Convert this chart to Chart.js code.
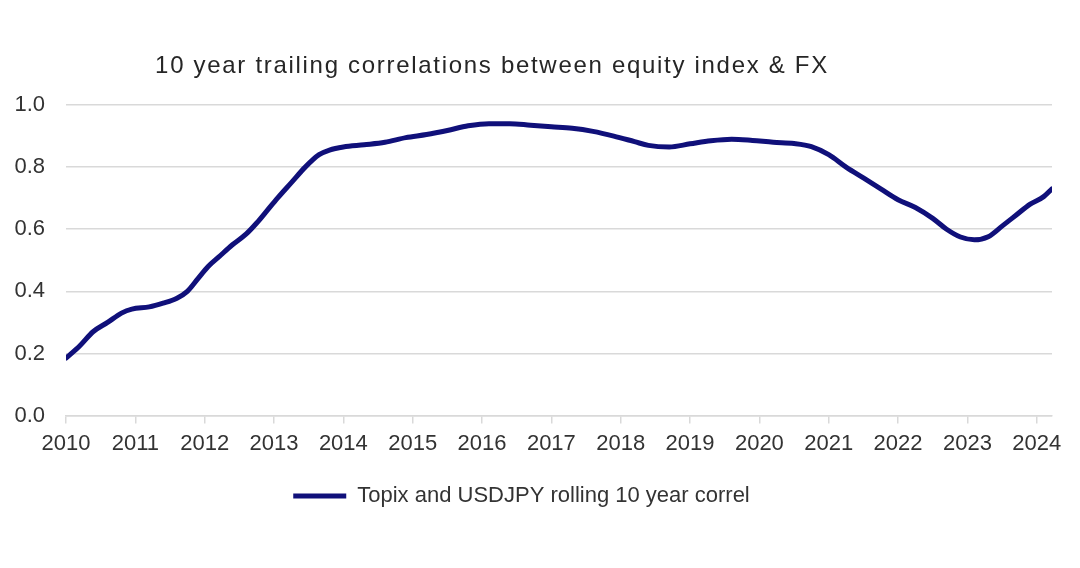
<!DOCTYPE html>
<html>
<head>
<meta charset="utf-8">
<script src="https://cdn.jsdelivr.net/npm/chart.js@4.4.1/dist/chart.umd.min.js"></script>
<style>
  html, body { margin: 0; padding: 0; background: #ffffff; }
  #wrap { width: 1080px; height: 568px; position: relative; }
</style>
</head>
<body>
<div id="wrap"><canvas id="c"></canvas></div>
<script>
const TITLE = "10 year trailing correlations between equity index & FX";
const SERIES_LABEL = "Topix and USDJPY rolling 10 year correl";

// time in fractional years
const years = [
  2010.00, 2010.20, 2010.39, 2010.60, 2010.80, 2010.95, 2011.20, 2011.40, 2011.60, 2011.75,
  2011.90, 2012.05, 2012.20, 2012.40, 2012.60, 2012.75, 2012.90, 2013.05, 2013.25, 2013.45,
  2013.65, 2013.80, 2014.00, 2014.30, 2014.60, 2014.90, 2015.20, 2015.50, 2015.80, 2016.10,
  2016.40, 2016.70, 2017.00, 2017.30, 2017.60, 2017.90, 2018.20, 2018.40, 2018.70, 2019.00,
  2019.30, 2019.60, 2019.90, 2020.20, 2020.50, 2020.75, 2021.00, 2021.25, 2021.50, 2021.75,
  2022.00, 2022.25, 2022.50, 2022.70, 2022.90, 2023.10, 2023.30, 2023.50, 2023.70, 2023.90,
  2024.10, 2024.22
];
// rolling 10-year correlation values
const correl = [
  0.185, 0.225, 0.270, 0.300, 0.330, 0.343, 0.350, 0.362, 0.378, 0.400,
  0.440, 0.480, 0.510, 0.550, 0.585, 0.620, 0.660, 0.700, 0.750, 0.800,
  0.840, 0.855, 0.865, 0.872, 0.880, 0.895, 0.905, 0.918, 0.933, 0.940,
  0.940, 0.935, 0.930, 0.925, 0.915, 0.900, 0.882, 0.870, 0.865, 0.875,
  0.885, 0.890, 0.886, 0.880, 0.876, 0.866, 0.840, 0.800, 0.765, 0.730,
  0.695, 0.670, 0.635, 0.600, 0.575, 0.566, 0.576, 0.610, 0.645, 0.680,
  0.705, 0.730
];
const xTickYears = [2010, 2011, 2012, 2013, 2014, 2015, 2016, 2017, 2018, 2019, 2020, 2021, 2022, 2023, 2024];
const yTicks = [0.0, 0.2, 0.4, 0.6, 0.8, 1.0];

const points = years.map((x, i) => ({ x: x, y: correl[i] }));

const FONT = '"Liberation Sans", Arial, sans-serif';
const LINE_COLOR = '#10107a';
const GRID = '#d9d9d9';
const TEXT = '#333333';

const titlePlugin = {
  id: 'customTitle',
  afterLayout(chart) {
    if (chart.legend) { chart.legend.left -= 12; chart.legend.right -= 12; }
  },
  afterDraw(chart) {
    const ctx = chart.ctx;
    ctx.save();
    ctx.font = '24px ' + FONT;
    ctx.fillStyle = '#262626';
    ctx.textAlign = 'center';
    ctx.textBaseline = 'middle';
    try { ctx.letterSpacing = '1.7px'; } catch (e) {}
    ctx.fillText(TITLE, 492, 66);
    ctx.restore();
  }
};

new Chart(document.getElementById('c'), {
  type: 'line',
  data: {
    datasets: [{
      label: SERIES_LABEL,
      data: points,
      borderColor: LINE_COLOR,
      backgroundColor: LINE_COLOR,
      borderWidth: 5,
      pointRadius: 0,
      pointHoverRadius: 0,
      tension: 0.4,
      cubicInterpolationMode: 'monotone',
      fill: false,
      borderCapStyle: 'round',
      borderJoinStyle: 'round'
    }]
  },
  options: {
    responsive: true,
    maintainAspectRatio: false,
    animation: false,
    layout: { padding: { top: 105, left: 15, right: 28, bottom: 51 } },
    scales: {
      x: {
        type: 'linear',
        min: xTickYears[0],
        max: years[years.length - 1],
        afterBuildTicks: (axis) => { axis.ticks = xTickYears.map(v => ({ value: v })); },
        afterFit: (axis) => { axis.paddingLeft = 0; axis.paddingRight = 0; },
        ticks: {
          includeBounds: false,
          autoSkip: false,
          maxRotation: 0,
          padding: 7,
          color: TEXT,
          font: { family: FONT, size: 22 },
          callback: (v) => String(v)
        },
        grid: { drawOnChartArea: false, drawTicks: true, tickLength: 8, color: GRID, lineWidth: 1.5 },
        border: { display: true, color: GRID, width: 1.5 }
      },
      y: {
        min: 0,
        max: 1,
        afterBuildTicks: (axis) => { axis.ticks = yTicks.map(v => ({ value: v })); },
        afterFit: (axis) => { axis.width = 51; },
        ticks: {
          padding: 21,
          color: TEXT,
          font: { family: FONT, size: 22 },
          callback: (v) => Number(v).toFixed(1)
        },
        grid: { color: GRID, lineWidth: 1.5, drawTicks: false },
        border: { display: false }
      }
    },
    plugins: {
      legend: {
        position: 'bottom',
        labels: {
          usePointStyle: true,
          pointStyle: 'line',
          pointStyleWidth: 53,
          color: TEXT,
          font: { family: FONT, size: 22 },
          padding: 21
        }
      },
      title: { display: false },
      tooltip: { enabled: false }
    }
  },
  plugins: [titlePlugin]
});
</script>
</body>
</html>
